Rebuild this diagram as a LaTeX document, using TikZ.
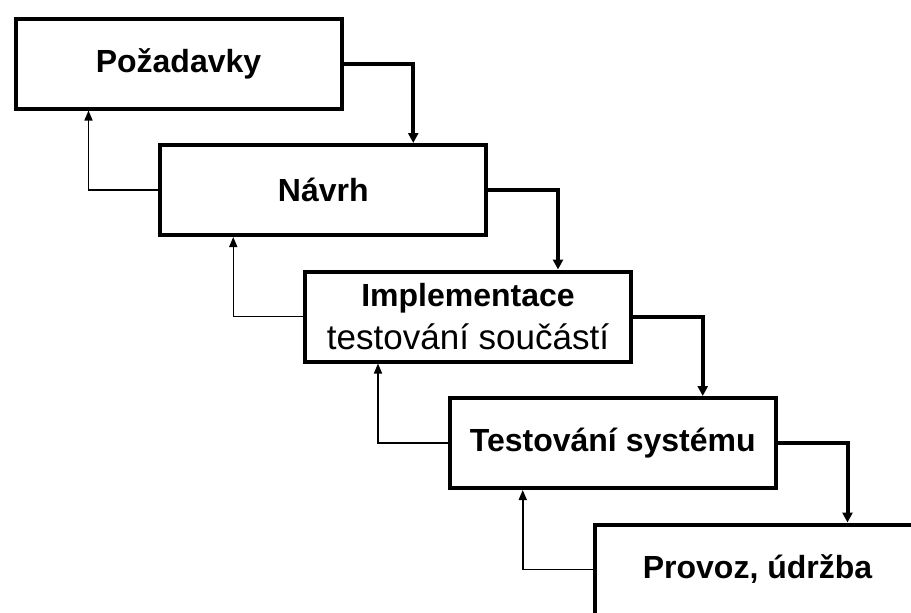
\documentclass[tikz,border=0pt]{standalone}
\usepackage{fontspec}
\setmainfont{Liberation Sans}
\usetikzlibrary{arrows.meta}

\begin{document}
\begin{tikzpicture}[x=1pt,y=-1pt,
  phase/.style={draw,line width=4pt,minimum width=326pt,minimum height=90pt,inner sep=0pt,align=center,font=\fontsize{32}{40}\selectfont\bfseries},
  fwd/.style={line width=4pt,-{Triangle[length=10pt,width=10pt]}},
  back/.style={line width=1.5pt,-{Triangle[length=10pt,width=8pt]}}]
\useasboundingbox (0,0) rectangle (911,613);
  \foreach \i/\txt in {1/Požadavky,2/Návrh,3/{Implementace\\[3pt]{\mdseries\fontsize{35}{40}\selectfont testování součástí}},4/Testování systému,5/{Provoz, údržba}}
  {  \node [phase] (p\i) at (178.5+144.75*\i-144.75, 63.5+126.5*\i-126.5) {\txt};}
  \foreach \i/\j in {1/2,2/3,3/4,4/5}
  {  \draw [fwd] (p\i.east) -| ([xshift=90pt]p\j.north);
     \draw [back] (p\j.west) -| ([xshift=-90pt]p\i.south);}
\end{tikzpicture}
\end{document}
